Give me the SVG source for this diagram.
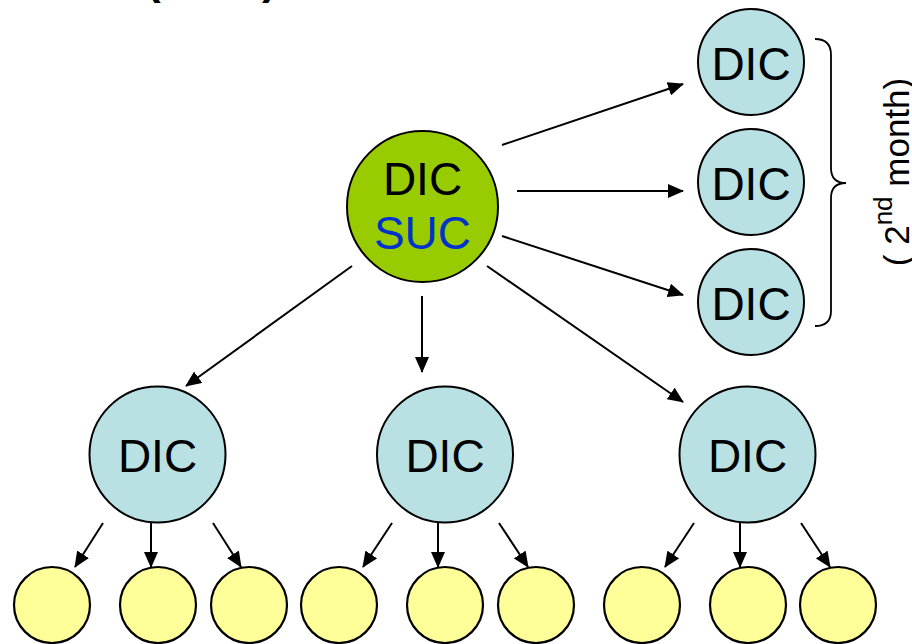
<svg xmlns="http://www.w3.org/2000/svg" width="912" height="644" viewBox="0 0 912 644">
<style>
  text { font-family: "Liberation Sans", Arial, sans-serif; }
  .lbl { font-size: 46px; text-anchor: middle; fill: #000; }
  .blue { fill: #B9E0E3; stroke: #000; stroke-width: 2; }
  .green { fill: #99CC00; stroke: #000; stroke-width: 2; }
  .leaf { fill: #FFFF99; stroke: #000; stroke-width: 2.2; }
  .edge { stroke: #000; stroke-width: 2; fill: none; marker-end: url(#arr); }
</style>
<defs>
  <marker id="arr" viewBox="0 0 16 14" refX="15" refY="7" markerWidth="16" markerHeight="14" markerUnits="userSpaceOnUse" orient="auto">
    <path d="M0,0 L16,7 L0,14 z" fill="#000"/>
  </marker>
</defs>
<rect width="912" height="644" fill="#fff"/>
<g id="title-fragment">
  <text x="146" y="-6" font-size="44" font-weight="bold">(</text>
  <text x="262" y="-6" font-size="44" font-weight="bold">)</text>
</g>
<g id="connectors">
  <line class="edge" x1="502" y1="145" x2="683" y2="84"/>
  <line class="edge" x1="517" y1="191" x2="683" y2="191"/>
  <line class="edge" x1="502" y1="236" x2="683" y2="295"/>
  <line class="edge" x1="352" y1="266" x2="186" y2="386"/>
  <line class="edge" x1="422" y1="296" x2="422" y2="372"/>
  <line class="edge" x1="487" y1="266" x2="683" y2="402"/>
  <line class="edge" x1="103" y1="523" x2="75" y2="567"/>
  <line class="edge" x1="151" y1="523" x2="151" y2="567"/>
  <line class="edge" x1="213" y1="523" x2="241" y2="567"/>
  <line class="edge" x1="392" y1="523" x2="363" y2="567"/>
  <line class="edge" x1="438" y1="523" x2="438" y2="567"/>
  <line class="edge" x1="499" y1="523" x2="528" y2="567"/>
  <line class="edge" x1="694" y1="523" x2="665" y2="567"/>
  <line class="edge" x1="740" y1="523" x2="740" y2="567"/>
  <line class="edge" x1="801" y1="523" x2="830" y2="567"/>
</g>
<g id="root">
  <circle class="green" cx="422.5" cy="206.5" r="75.5"/>
  <text class="lbl" x="422.5" y="195">DIC</text>
  <text class="lbl" x="422.5" y="249" fill="#0033CC" style="fill:#0033CC">SUC</text>
</g>
<g id="r1"><circle class="blue" cx="751" cy="62" r="53"/><text class="lbl" x="751" y="80">DIC</text></g>
<g id="r2"><circle class="blue" cx="751" cy="182" r="53"/><text class="lbl" x="751" y="200">DIC</text></g>
<g id="r3"><circle class="blue" cx="751" cy="302" r="53"/><text class="lbl" x="751" y="320">DIC</text></g>
<g id="m1"><circle class="blue" cx="157.5" cy="454.5" r="68"/><text class="lbl" x="157.5" y="472">DIC</text></g>
<g id="m2"><circle class="blue" cx="445" cy="454.5" r="68"/><text class="lbl" x="445" y="472">DIC</text></g>
<g id="m3"><circle class="blue" cx="747.5" cy="454.5" r="68"/><text class="lbl" x="747.5" y="472">DIC</text></g>
<g id="l1"><circle class="leaf" cx="52" cy="605" r="38"/></g>
<g id="l2"><circle class="leaf" cx="158" cy="605" r="38"/></g>
<g id="l3"><circle class="leaf" cx="249" cy="605" r="38"/></g>
<g id="l4"><circle class="leaf" cx="339" cy="605" r="38"/></g>
<g id="l5"><circle class="leaf" cx="445" cy="605" r="38"/></g>
<g id="l6"><circle class="leaf" cx="536" cy="605" r="38"/></g>
<g id="l7"><circle class="leaf" cx="642" cy="605" r="38"/></g>
<g id="l8"><circle class="leaf" cx="748" cy="605" r="38"/></g>
<g id="l9"><circle class="leaf" cx="838" cy="605" r="38"/></g>
<g id="brace">
  <path d="M815,39 Q831,39 831,55 L831,168 Q831,183 846,183 Q831,183 831,198 L831,311 Q831,326 815,326" fill="none" stroke="#000" stroke-width="1.8"/>
  <text transform="translate(909,172) rotate(-90)" font-size="35" text-anchor="middle">( 2<tspan font-size="26" dy="-17">nd</tspan><tspan dy="17"> month)</tspan></text>
</g>
</svg>
